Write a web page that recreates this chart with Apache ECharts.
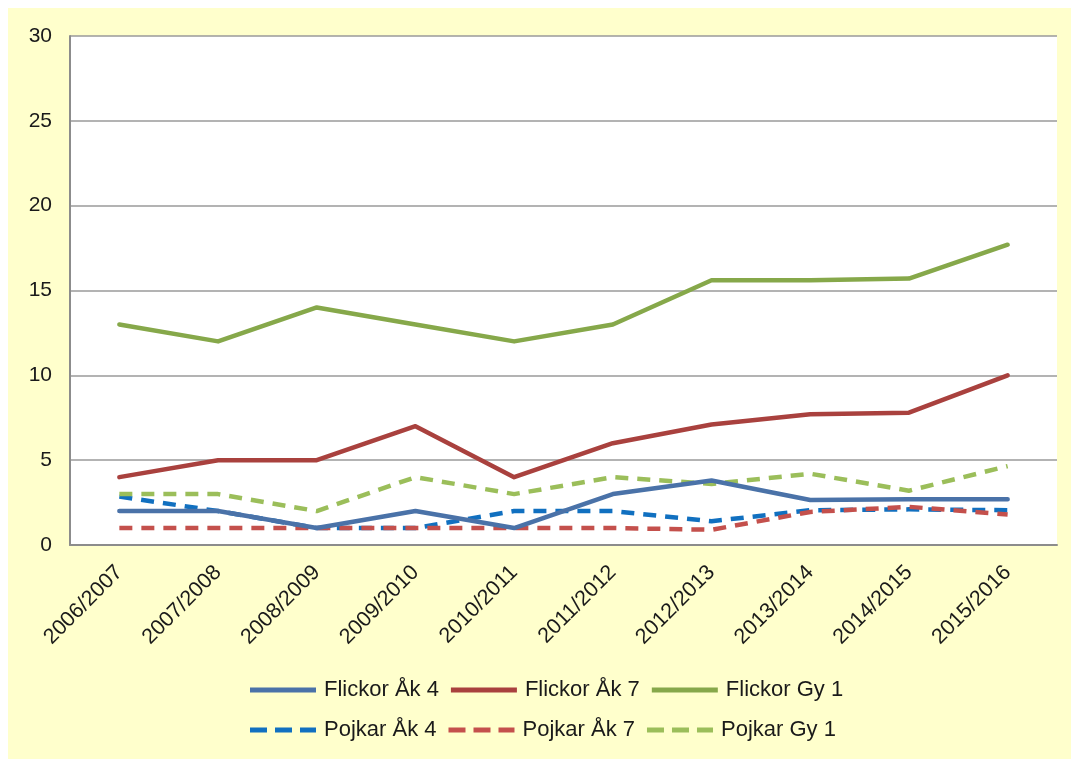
<!DOCTYPE html>
<html>
<head>
<meta charset="utf-8">
<script src="https://cdn.jsdelivr.net/npm/echarts@6/dist/echarts.min.js"></script>
<style>
html,body{margin:0;padding:0;background:#ffffff;}
#chart{position:absolute;left:8px;top:8px;width:1063px;height:751px;}
</style>
</head>
<body>
<div id="chart"></div>
<script>
const categories = ['2006/2007','2007/2008','2008/2009','2009/2010','2010/2011','2011/2012','2012/2013','2013/2014','2014/2015','2015/2016'];
const yTicks = [0, 5, 10, 15, 20, 25, 30];
const flickorAk4 = [2, 2, 1, 2, 1, 3, 3.8, 2.65, 2.7, 2.7];
const flickorAk7 = [4, 5, 5, 7, 4, 6, 7.1, 7.7, 7.8, 10];
const flickorGy1 = [13, 12, 14, 13, 12, 13, 15.6, 15.6, 15.7, 17.7];
const pojkarAk4 = [2.85, 2, 1, 1, 2, 2, 1.4, 2.05, 2.1, 2.05];
const pojkarAk7 = [1, 1, 1, 1, 1, 1, 0.9, 1.95, 2.25, 1.8];
const pojkarGy1 = [3, 3, 2, 4, 3, 4, 3.6, 4.2, 3.2, 4.65];

const FONT = 'Liberation Sans, Arial, sans-serif';
const SOLID_ICON = 'path://M0,0h66v5h-66z';
const DASH_ICON = 'path://M0,0h17v5h-17z M25,0h17v5h-17z M50,0h16v5h-16z';
function solid(name, data, color) {
  return {name, type:'line', data, symbol:'none', showSymbol:false,
    lineStyle:{color, width:4.5, cap:'round', join:'round'}, itemStyle:{color}, z:3};
}
function dashed(name, data, color) {
  return {name, type:'line', data, symbol:'none', showSymbol:false,
    lineStyle:{color, width:4.5, type:[13,9], cap:'butt', join:'round'}, itemStyle:{color}, z:2};
}
const chart = echarts.init(document.getElementById('chart'), null, {renderer:'canvas'});
const legendCommon = {
  itemWidth: 66, itemHeight: 5, itemGap: 12, padding: 0,
  textStyle:{fontFamily:FONT, fontSize:22, color:'#1a1a1a', width:116, padding:[0,0,0,3]}
};
chart.setOption({
  backgroundColor:'#FFFFCC',
  animation:false,
  grid:{left:62, top:28, right:14, bottom:214, backgroundColor:'#ffffff', show:true, borderWidth:0},
  xAxis:{type:'category', data:categories, boundaryGap:true,
    axisLine:{show:true, lineStyle:{color:'#8c8c8c', width:2}},
    axisTick:{show:false},
    axisLabel:{rotate:45, margin:24, fontFamily:FONT, fontSize:21.5, color:'#1a1a1a', interval:0}},
  yAxis:{type:'value', min:yTicks[0], max:yTicks[yTicks.length-1], interval:5,
    axisLine:{show:true, lineStyle:{color:'#8c8c8c', width:2}},
    axisTick:{show:false},
    splitLine:{show:true, lineStyle:{color:'#9a9a9a', width:1.5}},
    axisLabel:{margin:18, fontFamily:FONT, fontSize:21, color:'#1a1a1a'}},
  legend:[
    Object.assign({}, legendCommon, {left:242, top:671, data:[
      {name:'Flickor Åk 4', icon:SOLID_ICON},
      {name:'Flickor Åk 7', icon:SOLID_ICON},
      {name:'Flickor Gy 1', icon:SOLID_ICON}]}),
    Object.assign({}, legendCommon, {left:242, top:711, data:[
      {name:'Pojkar Åk 4', icon:DASH_ICON},
      {name:'Pojkar Åk 7', icon:DASH_ICON},
      {name:'Pojkar Gy 1', icon:DASH_ICON}]})
  ],
  series:[
    solid('Flickor Åk 4', flickorAk4, '#4A72A8'),
    solid('Flickor Åk 7', flickorAk7, '#A9413E'),
    solid('Flickor Gy 1', flickorGy1, '#86A84A'),
    dashed('Pojkar Åk 4', pojkarAk4, '#1170C0'),
    dashed('Pojkar Åk 7', pojkarAk7, '#C4504C'),
    dashed('Pojkar Gy 1', pojkarGy1, '#9BBE5A')
  ]
});
</script>
</body>
</html>
